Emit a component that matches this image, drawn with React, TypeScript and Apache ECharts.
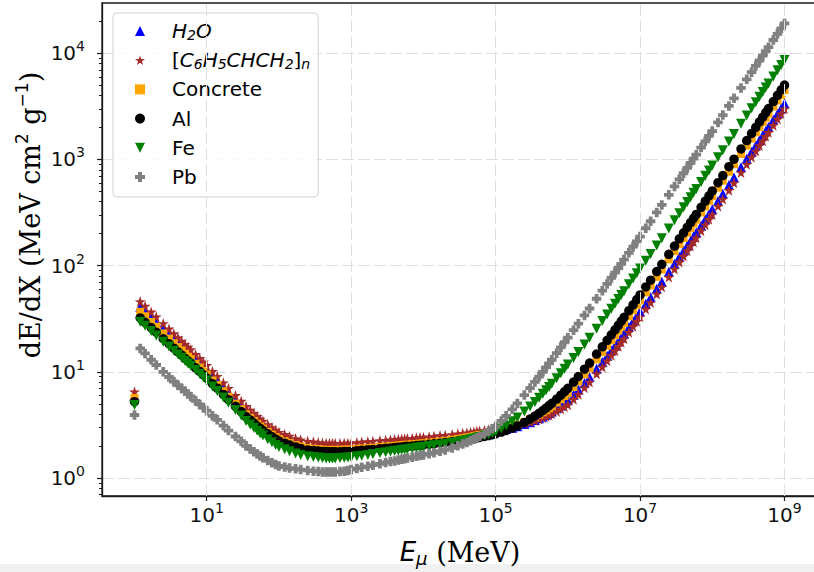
import React, { useEffect, useRef } from 'react';
import * as echarts from 'echarts';

// Muon kinetic energy grid (MeV)
const energyMeV = [
  1, 1.2, 1.4, 1.7, 2, 2.5, 3, 3.5, 4, 4.5, 5, 5.5, 6, 7, 8, 9,
  10, 12, 14, 17, 20, 25, 30, 35, 40, 45, 50, 55, 60, 70, 80, 90,
  100, 120, 140, 170, 200, 250, 300, 350, 400, 450, 500, 550, 600, 700, 800, 900,
  1e3, 1.2e3, 1.4e3, 1.7e3, 2e3, 2.5e3, 3e3, 3.5e3, 4e3, 4.5e3, 5e3, 5.5e3, 6e3, 7e3, 8e3, 9e3,
  1e4, 1.2e4, 1.4e4, 1.7e4, 2e4, 2.5e4, 3e4, 3.5e4, 4e4, 4.5e4, 5e4, 5.5e4, 6e4, 7e4, 8e4, 9e4,
  1e5, 1.2e5, 1.4e5, 1.7e5, 2e5, 2.5e5, 3e5, 3.5e5, 4e5, 4.5e5, 5e5, 5.5e5, 6e5, 7e5, 8e5, 9e5,
  1e6, 1.2e6, 1.4e6, 1.7e6, 2e6, 2.5e6, 3e6, 3.5e6, 4e6, 4.5e6, 5e6, 5.5e6, 6e6, 7e6, 8e6, 9e6,
  1e7, 1.2e7, 1.4e7, 1.7e7, 2e7, 2.5e7, 3e7, 3.5e7, 4e7, 4.5e7, 5e7, 5.5e7, 6e7, 7e7, 8e7, 9e7,
  1e8, 1.2e8, 1.4e8, 1.7e8, 2e8, 2.5e8, 3e8, 3.5e8, 4e8, 4.5e8, 5e8, 5.5e8, 6e8, 7e8, 8e8, 9e8,
  1e9,
];

const h2o = [
  6.0, 40.9, 37.0, 32.7, 29.4, 25.5, 22.7, 20.5, 18.8, 17.5, 16.3, 15.4, 14.5, 13.1, 12.0, 11.2,
  10.4, 9.09, 8.19, 7.12, 6.31, 5.41, 4.78, 4.27, 3.95, 3.68, 3.44, 3.25, 3.11, 2.89, 2.71, 2.57,
  2.46, 2.35, 2.26, 2.15, 2.08, 2.02, 1.99, 1.97, 1.95, 1.94, 1.93, 1.93, 1.93, 1.93, 1.94, 1.94,
  1.95, 1.97, 1.99, 2.01, 2.03, 2.05, 2.07, 2.09, 2.11, 2.12, 2.14, 2.15, 2.16, 2.18, 2.19, 2.21,
  2.22, 2.25, 2.27, 2.30, 2.33, 2.37, 2.41, 2.44, 2.47, 2.50, 2.53, 2.56, 2.59, 2.64, 2.69, 2.73,
  2.78, 2.84, 2.90, 2.98, 3.07, 3.22, 3.36, 3.51, 3.65, 3.80, 3.94, 4.09, 4.24, 4.53, 4.82, 5.11,
  5.4, 6.10, 6.80, 7.86, 8.91, 10.7, 12.4, 14.2, 15.9, 17.7, 19.4, 21.2, 23.0, 26.5, 30.0, 33.5,
  37, 43.7, 50.5, 60.6, 70.7, 87.5, 104, 121, 138, 155, 172, 189, 205, 239, 273, 306,
  340, 407, 475, 576, 677, 846, 1014, 1183, 1352, 1520, 1689, 1858, 2026, 2363, 2701, 3038,
  3375,
];

const polystyrene = [
  6.5, 46.0, 41.6, 36.7, 33.0, 28.5, 25.4, 22.9, 21.0, 19.5, 18.2, 17.1, 16.2, 14.6, 13.4, 12.4,
  11.5, 10.1, 9.1, 7.9, 7.0, 6.0, 5.3, 4.73, 4.37, 4.07, 3.81, 3.60, 3.44, 3.19, 2.99, 2.83,
  2.70, 2.58, 2.48, 2.36, 2.29, 2.22, 2.19, 2.16, 2.14, 2.13, 2.12, 2.12, 2.12, 2.12, 2.13, 2.13,
  2.14, 2.16, 2.18, 2.20, 2.22, 2.25, 2.27, 2.29, 2.31, 2.32, 2.33, 2.34, 2.36, 2.37, 2.39, 2.41,
  2.42, 2.45, 2.47, 2.51, 2.53, 2.57, 2.61, 2.64, 2.67, 2.70, 2.72, 2.75, 2.77, 2.81, 2.85, 2.90,
  2.93, 2.97, 3.02, 3.08, 3.15, 3.26, 3.37, 3.48, 3.59, 3.70, 3.81, 3.92, 4.02, 4.24, 4.46, 4.68,
  4.9, 5.52, 6.15, 7.09, 8.02, 9.58, 11.1, 12.7, 14.3, 15.8, 17.4, 19.0, 20.5, 23.6, 26.8, 29.9,
  33, 39, 45, 54, 63, 78, 93, 108, 123, 138, 153, 168, 183, 213, 243, 273,
  303, 363, 423, 513, 603, 753, 902, 1052, 1202, 1352, 1502, 1652, 1801, 2101, 2401, 2700,
  3000,
];

const concrete = [
  5.67, 36.8, 33.4, 29.5, 26.6, 23.0, 20.6, 18.6, 17.1, 15.9, 14.8, 13.9, 13.2, 11.9, 11.0, 10.2,
  9.43, 8.31, 7.52, 6.56, 5.83, 5.02, 4.45, 3.98, 3.69, 3.44, 3.23, 3.06, 2.92, 2.72, 2.56, 2.43,
  2.33, 2.22, 2.14, 2.04, 1.98, 1.92, 1.89, 1.87, 1.85, 1.84, 1.84, 1.84, 1.84, 1.84, 1.85, 1.85,
  1.86, 1.88, 1.90, 1.92, 1.93, 1.96, 1.98, 2.00, 2.01, 2.02, 2.04, 2.05, 2.06, 2.08, 2.09, 2.11,
  2.12, 2.15, 2.17, 2.21, 2.24, 2.29, 2.33, 2.37, 2.41, 2.44, 2.48, 2.51, 2.55, 2.61, 2.67, 2.73,
  2.79, 2.87, 2.95, 3.06, 3.18, 3.38, 3.57, 3.77, 3.96, 4.16, 4.35, 4.55, 4.74, 5.13, 5.52, 5.91,
  6.3, 7.20, 8.11, 9.47, 10.8, 13.1, 15.3, 17.6, 19.9, 22.1, 24.4, 26.7, 28.9, 33.4, 38.0, 42.5,
  47, 56, 65, 78.5, 92, 114.5, 137, 159.5, 182, 204.5, 227, 249.5, 272, 317, 362, 407,
  452, 542, 632, 767, 902, 1127, 1352, 1576, 1801, 2026, 2251, 2476, 2701, 3151, 3600, 4050,
  4500,
];

const aluminium = [
  5.23, 32.2, 29.3, 26.1, 23.6, 20.5, 18.4, 16.7, 15.4, 14.4, 13.4, 12.7, 12.1, 10.9, 10.1, 9.37,
  8.74, 7.73, 7.01, 6.13, 5.47, 4.74, 4.22, 3.79, 3.52, 3.29, 3.09, 2.93, 2.80, 2.61, 2.45, 2.33,
  2.23, 2.13, 2.05, 1.96, 1.90, 1.84, 1.82, 1.80, 1.78, 1.78, 1.77, 1.77, 1.77, 1.77, 1.78, 1.78,
  1.79, 1.81, 1.83, 1.85, 1.86, 1.89, 1.91, 1.92, 1.94, 1.95, 1.96, 1.98, 1.99, 2.00, 2.02, 2.03,
  2.05, 2.08, 2.10, 2.13, 2.16, 2.20, 2.23, 2.27, 2.30, 2.33, 2.36, 2.39, 2.41, 2.46, 2.51, 2.56,
  2.61, 2.71, 2.81, 2.95, 3.10, 3.34, 3.59, 3.83, 4.07, 4.32, 4.56, 4.81, 5.05, 5.54, 6.03, 6.51,
  7.0, 8.02, 9.04, 10.6, 12.1, 14.7, 17.2, 19.8, 22.3, 24.9, 27.4, 30.0, 32.6, 37.7, 42.8, 47.9,
  53, 63, 73, 88, 103, 128, 153, 179, 204, 229, 254, 279, 304, 354, 405, 455,
  505, 605, 706, 856, 1007, 1258, 1508, 1759, 2010, 2261, 2512, 2763, 3013, 3515, 4017, 4518,
  5020,
];

const iron = [
  4.87, 29.7, 27.1, 24.2, 22.0, 19.2, 17.3, 15.8, 14.6, 13.6, 12.7, 12.0, 11.4, 10.4, 9.55, 8.88,
  8.28, 7.29, 6.59, 5.74, 5.11, 4.38, 3.87, 3.45, 3.19, 2.97, 2.78, 2.63, 2.51, 2.32, 2.17, 2.05,
  1.96, 1.87, 1.79, 1.70, 1.65, 1.60, 1.58, 1.56, 1.54, 1.53, 1.53, 1.53, 1.53, 1.54, 1.55, 1.56,
  1.57, 1.60, 1.62, 1.65, 1.68, 1.72, 1.75, 1.78, 1.80, 1.82, 1.84, 1.86, 1.87, 1.90, 1.93, 1.95,
  1.97, 2.00, 2.03, 2.06, 2.10, 2.15, 2.19, 2.24, 2.28, 2.32, 2.36, 2.40, 2.44, 2.51, 2.58, 2.65,
  2.72, 2.92, 3.12, 3.42, 3.72, 4.22, 4.72, 5.21, 5.71, 6.21, 6.71, 7.21, 7.71, 8.70, 9.70, 10.7,
  11.7, 13.5, 15.4, 18.1, 20.9, 25.5, 30.1, 34.6, 39.2, 43.8, 48.4, 52.9, 57.5, 66.7, 75.8, 84.9,
  94, 111, 129, 155, 181, 224, 268, 311, 355, 398, 442, 485, 528, 615, 702, 789,
  876, 1048, 1221, 1479, 1738, 2169, 2599, 3030, 3461, 3892, 4322, 4753, 5184, 6045, 6907, 7768,
  8630,
];

const lead = [
  3.92, 16.6, 14.9, 13.0, 11.6, 10.0, 8.94, 8.11, 7.48, 6.98, 6.55, 6.17, 5.86, 5.33, 4.93, 4.60,
  4.31, 3.86, 3.53, 3.12, 2.80, 2.46, 2.22, 2.01, 1.88, 1.77, 1.68, 1.61, 1.55, 1.46, 1.39, 1.34,
  1.30, 1.27, 1.24, 1.22, 1.20, 1.18, 1.16, 1.15, 1.14, 1.14, 1.14, 1.14, 1.14, 1.15, 1.16, 1.18,
  1.20, 1.23, 1.26, 1.29, 1.32, 1.36, 1.40, 1.43, 1.45, 1.48, 1.50, 1.52, 1.54, 1.57, 1.60, 1.63,
  1.65, 1.69, 1.73, 1.79, 1.84, 1.92, 2.01, 2.09, 2.16, 2.24, 2.32, 2.39, 2.47, 2.61, 2.76, 2.91,
  3.05, 3.45, 3.85, 4.44, 5.04, 6.04, 7.04, 8.03, 9.03, 10.0, 11.0, 12.0, 13.0, 15.0, 17.0, 19.0,
  21.0, 24.7, 28.4, 34.0, 39.5, 48.8, 58.1, 67.3, 76.6, 85.9, 95.1, 104, 114, 132, 151, 169,
  188, 225, 262, 317, 373, 465, 557, 650, 742, 834, 927, 1019, 1111, 1296, 1481, 1665,
  1850, 2233, 2617, 3192, 3767, 4725, 5683, 6642, 7600, 8558, 9517, 10475, 11433, 13350, 15267, 17183,
  19100,
];

const xTickValues = [1e1, 1e3, 1e5, 1e7, 1e9];
const yTickValues = [1e0, 1e1, 1e2, 1e3, 1e4];
const yMinorTickValues = [
  0.7, 0.8, 0.9, 2, 3, 4, 5, 6, 7, 8, 9, 20, 30, 40, 50, 60, 70, 80, 90,
  200, 300, 400, 500, 600, 700, 800, 900, 2000, 3000, 4000, 5000, 6000, 7000, 8000, 9000, 20000,
];

const SANS = 'DejaVu Sans';
const SERIF = 'DejaVu Serif';

const PLUS_FILLED = 'path://M3,0H7V3H10V7H7V10H3V7H0V3H3Z';
const TRI_DOWN = 'path://M0,0L10,0L5,10Z';
const STAR = 'path://M0,-1L0.2245,-0.309L0.951,-0.309L0.363,0.118L0.588,0.809L0,0.382L-0.588,0.809L-0.363,0.118L-0.951,-0.309L-0.2245,-0.309Z';

const seriesDefs = [
  { name: 'H2O', values: h2o, color: '#0000ff', symbol: 'triangle', size: 10 },
  { name: '[C6H5CHCH2]n', values: polystyrene, color: '#a52a2a', symbol: STAR, size: 11 },
  { name: 'Concrete', values: concrete, color: '#ffa500', symbol: 'rect', size: 8 },
  { name: 'Al', values: aluminium, color: '#000000', symbol: 'circle', size: 9.5 },
  { name: 'Fe', values: iron, color: '#008000', symbol: TRI_DOWN, size: 10 },
  { name: 'Pb', values: lead, color: '#808080', symbol: PLUS_FILLED, size: 9.5 },
];

const legendLabels: Record<string, string> = {
  'H2O': '{g| }{i|H}{s|2}{i|O}',
  '[C6H5CHCH2]n': '{g| }{n|[}{i|C}{s|6}{i|H}{s|5}{i|CHCH}{s|2}{n|]}{s|n}',
  'Concrete': '{g| }{n|Concrete}',
  'Al': '{g| }{n|Al}',
  'Fe': '{g| }{n|Fe}',
  'Pb': '{g| }{n|Pb}',
};

const powerLabel = (v: number) => `{b|10}{sup|${Math.round(Math.log10(v))}}`;
const tickRich = {
  b: { fontFamily: SANS, fontSize: 20, lineHeight: 20, color: '#111', verticalAlign: 'middle' },
  sup: { fontFamily: SANS, fontSize: 14, lineHeight: 14, color: '#111', verticalAlign: 'middle', padding: [0, 0, 14, 0] },
};

const X_MIN = 0.3548;
const X_MAX = 2.818e9;
const Y_MIN = 0.6771;
const Y_MAX = 29770;

const GRID_COLOR = '#dedede';
const GRID_LINE = { color: GRID_COLOR, width: 1, type: [12, 4] };

export default function App() {
  const ref = useRef<HTMLDivElement>(null);
  useEffect(() => {
    if (!ref.current) return;
    const chart = echarts.init(ref.current, undefined, { renderer: 'svg' });
    const option: any = {
      animation: false,
      backgroundColor: '#ffffff',
      grid: {
        left: 102, top: 3, width: 715, height: 493,
        show: true, borderColor: '#1a1a1a', borderWidth: 1.3, backgroundColor: 'transparent',
        outerBoundsMode: 'none', containLabel: false,
      },
      legend: {
        orient: 'vertical', left: 113, top: 13,
        padding: [7, 8, 9, 22],
        itemWidth: 10, itemHeight: 10, itemGap: 7.2,
        backgroundColor: 'rgba(255,255,255,0.85)', borderColor: '#d0d0d0', borderWidth: 1, borderRadius: 4,
        formatter: (name: string) => legendLabels[name] ?? name,
        textStyle: {
          fontFamily: SANS, fontSize: 20, color: '#000', lineHeight: 22,
          rich: {
            g: { width: 22, fontSize: 10, lineHeight: 22 },
            n: { fontFamily: SANS, fontSize: 20, lineHeight: 22, color: '#000' },
            i: { fontFamily: SANS, fontStyle: 'italic', fontSize: 20, lineHeight: 22, color: '#000' },
            s: { fontFamily: SANS, fontStyle: 'italic', fontSize: 14, lineHeight: 14, padding: [8, 0, 0, 0], color: '#000' },
          },
        },
        data: seriesDefs.map((s) => s.name),
      },
      xAxis: {
        type: 'log', logBase: 10, min: X_MIN, max: X_MAX,
        axisLine: { show: true, onZero: false, lineStyle: { color: '#1a1a1a', width: 1.3 } },
        axisTick: { show: true, length: 5, customValues: xTickValues, lineStyle: { color: '#1a1a1a', width: 1.2 } },
        minorTick: { show: false },
        axisLabel: {
          customValues: xTickValues, margin: 9, formatter: powerLabel, rich: tickRich,
        },
        splitLine: { show: false },
      },
      yAxis: [
        {
          type: 'log', logBase: 10, min: Y_MIN, max: Y_MAX,
          axisLine: { show: true, onZero: false, lineStyle: { color: '#1a1a1a', width: 1.3 } },
          axisTick: { show: true, length: 5, customValues: yTickValues, lineStyle: { color: '#1a1a1a', width: 1.2 } },
          minorTick: { show: false },
          axisLabel: {
            customValues: yTickValues, margin: 17, formatter: powerLabel, rich: tickRich,
          },
          splitLine: { show: true, lineStyle: GRID_LINE },
        },
        {
          type: 'log', logBase: 10, min: Y_MIN, max: Y_MAX, position: 'left',
          axisLine: { show: false },
          axisTick: { show: true, length: 3, customValues: yMinorTickValues, lineStyle: { color: '#1a1a1a', width: 1 } },
          axisLabel: { show: false },
          splitLine: { show: false },
        },
      ],
      graphic: [
        {
          type: 'rect', z: -10, silent: true,
          shape: { x: 0, y: 564, width: 814, height: 8 },
          style: { fill: '#f1f1f1' },
        },
        {
          type: 'text', x: 30, y: 215, rotation: Math.PI / 2,
          style: {
            text: '{r|dE/dX (MeV cm}{p|2}{r| g}{p|−1}{r|)}',
            align: 'center', verticalAlign: 'middle',
            rich: {
              r: { fontFamily: SERIF, fontSize: 27, lineHeight: 30, fill: '#000' },
              p: { fontFamily: SANS, fontSize: 17, lineHeight: 17, padding: [0, 0, 16, 0], fill: '#000' },
            },
          },
        },
        {
          type: 'text', x: 460, y: 552,
          style: {
            text: '{e|E}{m|μ}{r| (MeV)}',
            align: 'center', verticalAlign: 'middle',
            rich: {
              e: { fontFamily: SANS, fontStyle: 'italic', fontSize: 26, lineHeight: 30, fill: '#000' },
              m: { fontFamily: SANS, fontStyle: 'italic', fontSize: 18, lineHeight: 18, padding: [12, 0, 0, 0], fill: '#000' },
              r: { fontFamily: SERIF, fontSize: 27, lineHeight: 30, fill: '#000' },
            },
          },
        },
      ],
      series: [
        {
          name: 'x-grid',
          type: 'scatter',
          xAxisIndex: 0,
          yAxisIndex: 0,
          z: 1,
          silent: true,
          data: [],
          markLine: {
            silent: true,
            symbol: ['none', 'none'],
            label: { show: false },
            lineStyle: GRID_LINE,
            emphasis: { disabled: true },
            data: xTickValues.map((v) => ({ xAxis: v })),
          },
        },
        ...seriesDefs.map((s) => ({
          name: s.name,
          type: 'scatter',
          xAxisIndex: 0,
          yAxisIndex: 0,
          z: 2,
          symbol: s.symbol,
          symbolSize: s.size,
          itemStyle: { color: s.color, opacity: 1 },
          emphasis: { disabled: true },
          data: energyMeV.map((e, i) => [e, s.values[i]]),
        })),
      ],
    };
    chart.setOption(option);
    return () => chart.dispose();
  }, []);
  return (
    <div
      ref={ref}
      style={{ position: 'fixed', left: 0, top: 0, width: 814, height: 572, background: '#fff' }}
    />
  );
}
